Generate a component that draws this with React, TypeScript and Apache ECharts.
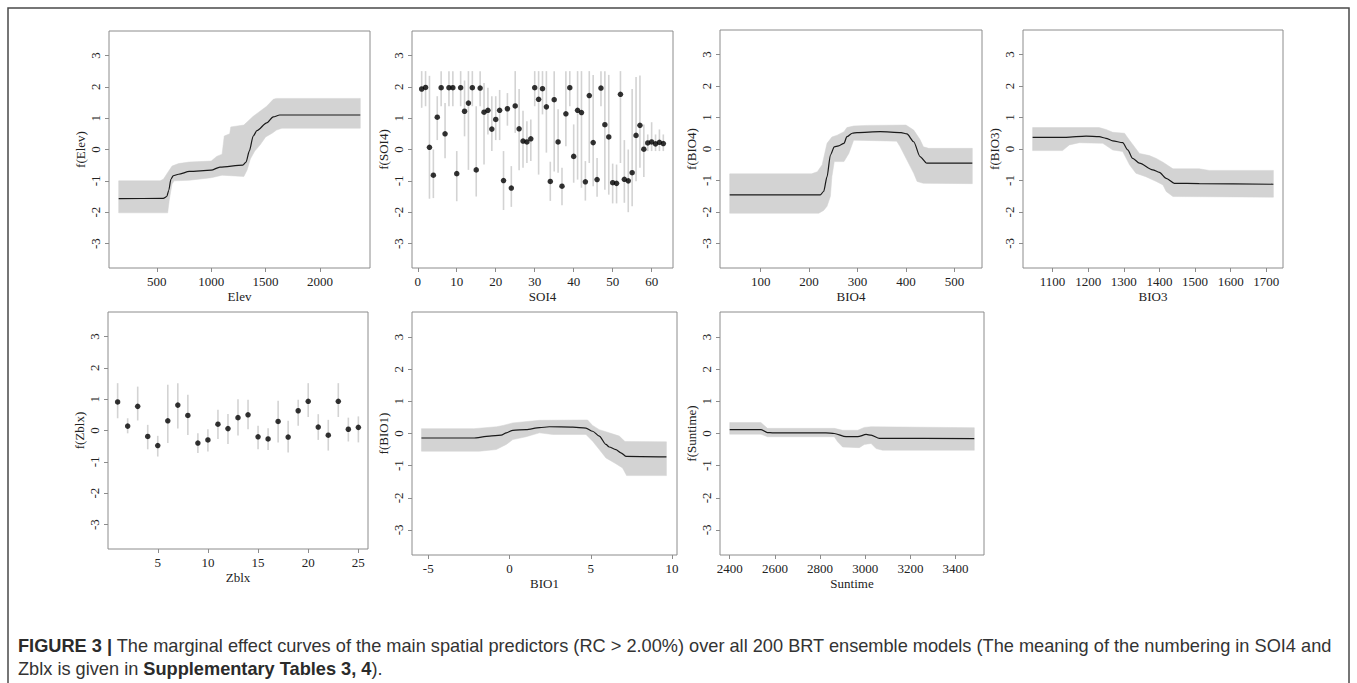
import React, { useEffect, useRef } from 'react';
import * as echarts from 'echarts';

// ---------------- DATA ----------------
// Elev
const elevTicks = [500, 1000, 1500, 2000];
const elevLine = [[150,-1.57],[560,-1.56],[592,-1.5],[610,-1.3],[630,-0.95],[650,-0.84],[700,-0.79],[800,-0.7],[1000,-0.66],[1080,-0.56],[1290,-0.5],[1320,-0.4],[1350,-0.05],[1386,0.43],[1420,0.6],[1510,0.85],[1570,1.04],[1630,1.1],[2370,1.1]];
const elevUpper = [[150,-1.0],[530,-1.0],[560,-0.95],[592,-0.78],[640,-0.53],[700,-0.45],[800,-0.4],[1000,-0.37],[1050,-0.22],[1100,-0.15],[1120,0.43],[1170,0.5],[1180,0.72],[1300,0.78],[1386,1.06],[1510,1.38],[1570,1.6],[1600,1.63],[2370,1.63]];
const elevLower = [[150,-2.02],[600,-2.02],[615,-1.6],[640,-1.1],[660,-1.0],[800,-0.98],[1000,-0.9],[1100,-0.82],[1300,-0.86],[1330,-0.65],[1360,-0.3],[1400,-0.05],[1450,0.15],[1500,0.4],[1560,0.52],[1600,0.62],[1650,0.68],[2370,0.68]];

// SOI4 (factor levels 1..63)
const soi4Ticks = [0, 10, 20, 30, 40, 50, 60];
const soi4Mean = [1.93,1.98,0.07,-0.82,1.03,1.97,0.5,1.97,1.97,-0.77,1.97,1.22,1.48,1.97,-0.65,1.96,1.19,1.25,0.65,0.96,1.25,-0.99,1.3,-1.23,1.39,0.66,0.27,0.24,0.34,1.97,1.6,1.94,1.36,-1.02,1.59,0.24,-1.17,1.14,1.97,-0.22,1.25,1.18,-1.03,1.72,0.22,-0.96,1.96,0.79,0.4,-1.06,-1.08,1.76,-0.95,-1.0,-0.74,0.45,0.77,0.01,0.21,0.24,0.18,0.23,0.19];
const soi4Hi = [2.5,2.5,2.35,0,1.7,2.5,1.48,2.5,2.5,-0.05,2.5,2.2,2.5,2.5,1.38,2.5,2.12,1.97,1.7,1.7,1.9,-0.05,1.8,-0.53,2.5,1.93,1.24,0.9,0.96,2.5,2.5,2.5,2.5,-0.39,2.5,1.28,-0.58,2.5,2.5,0.8,2.5,2.5,-0.37,2.5,2.38,-0.27,2.5,2.5,2.38,-0.45,-0.48,2.5,0.3,0,1.93,2.31,2.36,0.8,0.48,0.87,0.48,0.64,0.48];
const soi4Lo = [1.33,1.38,-1.57,-1.55,0.3,1.38,-0.28,1.38,1.38,-1.65,1.38,0.42,-0.65,1.38,-1.5,1.38,-0.48,0.48,-0.05,0.3,0.3,-1.93,0.76,-1.83,0.53,-0.66,-0.58,-0.43,-0.37,1.38,-0.8,1.12,-0.1,-1.64,-0.7,-0.74,-1.78,0.1,1.38,-1.06,-0.96,-1.22,-1.63,-0.43,-1.17,-1.51,1.38,-1.28,-1.44,-1.72,-1.72,-0.43,-1.7,-2.0,-1.81,-1.01,-0.58,-0.88,-0.05,-0.05,-0.05,-0.05,-0.05];

// BIO4
const bio4Ticks = [100, 200, 300, 400, 500];
const bio4Line = [[36,-1.46],[223,-1.46],[230,-1.35],[237,-0.88],[244,-0.19],[252,0.07],[261,0.1],[272,0.18],[278,0.39],[289,0.5],[299,0.52],[347,0.55],[390,0.52],[402,0.48],[416,0.23],[429,-0.24],[443,-0.45],[537,-0.45]];
const bio4Upper = [[36,-0.79],[205,-0.79],[217,-0.72],[227,-0.5],[237,0.18],[247,0.38],[258,0.44],[272,0.55],[278,0.68],[292,0.73],[320,0.75],[400,0.76],[416,0.6],[429,0.3],[436,0.07],[447,0.02],[537,0.02]];
const bio4Lower = [[36,-2.04],[220,-2.04],[230,-1.95],[237,-1.82],[244,-1.5],[247,-0.88],[252,-0.4],[272,-0.4],[282,-0.14],[292,0.28],[381,0.25],[388,0.07],[402,-0.35],[416,-0.77],[423,-1.03],[436,-1.09],[537,-1.1]];

// BIO3
const bio3Ticks = [1100, 1200, 1300, 1400, 1500, 1600, 1700];
const bio3Line = [[1044,0.37],[1138,0.37],[1194,0.41],[1231,0.39],[1250,0.34],[1269,0.26],[1297,0.2],[1311,-0.03],[1325,-0.3],[1344,-0.45],[1381,-0.66],[1400,-0.74],[1419,-0.93],[1442,-1.09],[1512,-1.1],[1720,-1.12]];
const bio3Upper = [[1044,0.68],[1231,0.68],[1250,0.62],[1269,0.53],[1302,0.5],[1316,0.28],[1344,-0.14],[1372,-0.21],[1391,-0.3],[1410,-0.42],[1438,-0.63],[1512,-0.63],[1540,-0.68],[1720,-0.68]];
const bio3Lower = [[1044,-0.05],[1128,-0.05],[1147,0.13],[1175,0.2],[1241,0.18],[1269,-0.03],[1297,-0.08],[1316,-0.5],[1334,-0.77],[1362,-0.88],[1391,-1.03],[1410,-1.14],[1419,-1.35],[1438,-1.51],[1720,-1.53]];

// Zblx (factor levels 1..25)
const zblxTicks = [5, 10, 15, 20, 25];
const zblxMean = [0.91,0.14,0.77,-0.19,-0.48,0.31,0.81,0.48,-0.4,-0.3,0.2,0.06,0.41,0.5,-0.2,-0.27,0.29,-0.21,0.63,0.93,0.11,-0.15,0.93,0.04,0.1];
const zblxHi = [1.51,0.39,1.4,0.18,-0.17,1.46,1.51,1.14,-0.09,0.04,0.66,0.53,1.0,0.98,0.15,0.07,0.95,0.31,0.98,1.51,0.52,0.34,1.51,0.41,0.45];
const zblxLo = [0.39,-0.09,0.32,-0.6,-0.83,-0.4,0.06,-0.14,-0.72,-0.67,-0.27,-0.43,-0.16,0.04,-0.6,-0.62,-0.38,-0.7,0.15,0.43,-0.3,-0.64,0.43,-0.35,-0.38];

// BIO1
const bio1Ticks = [-5, 0, 5, 10];
const bio1Line = [[-5.42,-0.14],[-2.25,-0.14],[-1.23,-0.08],[-0.51,-0.05],[-0.2,0.02],[0.2,0.1],[1.02,0.12],[1.84,0.18],[2.45,0.21],[3.89,0.2],[4.7,0.17],[5.11,0.07],[5.52,-0.08],[5.93,-0.34],[6.13,-0.42],[6.54,-0.5],[6.85,-0.6],[7.16,-0.71],[9.65,-0.73]];
const bio1Upper = [[-5.42,0.15],[-2.2,0.15],[-0.8,0.21],[-0.4,0.25],[0.2,0.33],[1.84,0.41],[4.8,0.42],[5.11,0.25],[5.52,0.12],[6.13,0.02],[6.75,-0.08],[7.1,-0.25],[9.65,-0.26]];
const bio1Lower = [[-5.42,-0.55],[-1.84,-0.55],[-0.82,-0.5],[-0.2,-0.34],[0.2,-0.19],[1.02,-0.1],[1.84,0.02],[2.66,-0.03],[4.7,-0.03],[5.11,-0.24],[5.52,-0.5],[5.93,-0.76],[6.54,-0.94],[6.95,-1.07],[7.2,-1.31],[9.65,-1.31]];

// Suntime
const suntimeTicks = [2400, 2600, 2800, 3000, 3200, 3400];
const suntimeLine = [[2400,0.12],[2538,0.12],[2567,0.03],[2589,0.02],[2826,0.02],[2863,0.0],[2915,-0.1],[2967,-0.1],[3004,-0.03],[3026,-0.05],[3063,-0.15],[3483,-0.16]];
const suntimeUpper = [[2400,0.34],[2538,0.34],[2567,0.16],[2863,0.16],[2900,0.1],[2967,0.1],[2996,0.19],[3026,0.21],[3483,0.18]];
const suntimeLower = [[2400,-0.02],[2538,-0.02],[2567,-0.1],[2863,-0.1],[2878,-0.26],[2900,-0.42],[2974,-0.44],[2996,-0.34],[3026,-0.31],[3048,-0.47],[3077,-0.52],[3483,-0.52]];

const yTicks = [-3, -2, -1, 0, 1, 2, 3];

const captionLabel = 'FIGURE 3 |';
const captionLine1 = 'The marginal effect curves of the main spatial predictors (RC > 2.00%) over all 200 BRT ensemble models (The meaning of the numbering in SOI4 and';
const captionLine2a = 'Zblx is given in ';
const captionLine2b = 'Supplementary Tables 3, 4';
const captionLine2c = ').';

// ---------------- LAYOUT ----------------
type Panel = {
  left: number; top: number; width: number; height: number;
  xmin: number; xmax: number; xticks: number[]; xname: string; yname: string;
  kind: 'curve' | 'factor';
  line?: number[][]; upper?: number[][]; lower?: number[][];
  mean?: number[]; hi?: number[]; lo?: number[];
};

const PANELS: Panel[] = [
  { left: 109, top: 31, width: 261, height: 237, xmin: 61, xmax: 2459, xticks: elevTicks, xname: 'Elev', yname: 'f(Elev)', kind: 'curve', line: elevLine, upper: elevUpper, lower: elevLower },
  { left: 412, top: 31, width: 261, height: 237, xmin: -1.48, xmax: 65.48, xticks: soi4Ticks, xname: 'SOI4', yname: 'f(SOI4)', kind: 'factor', mean: soi4Mean, hi: soi4Hi, lo: soi4Lo },
  { left: 720, top: 30, width: 262, height: 238, xmin: 16, xmax: 557, xticks: bio4Ticks, xname: 'BIO4', yname: 'f(BIO4)', kind: 'curve', line: bio4Line, upper: bio4Upper, lower: bio4Lower },
  { left: 1023, top: 30, width: 260, height: 238, xmin: 1017, xmax: 1747, xticks: bio3Ticks, xname: 'BIO3', yname: 'f(BIO3)', kind: 'curve', line: bio3Line, upper: bio3Upper, lower: bio3Lower },
  { left: 108, top: 312, width: 260, height: 237, xmin: 0.04, xmax: 25.96, xticks: zblxTicks, xname: 'Zblx', yname: 'f(Zblx)', kind: 'factor', mean: zblxMean, hi: zblxHi, lo: zblxLo },
  { left: 412, top: 312, width: 265, height: 243, xmin: -6.0, xmax: 10.3, xticks: bio1Ticks, xname: 'BIO1', yname: 'f(BIO1)', kind: 'curve', line: bio1Line, upper: bio1Upper, lower: bio1Lower },
  { left: 720, top: 312, width: 264, height: 243, xmin: 2357, xmax: 3526, xticks: suntimeTicks, xname: 'Suntime', yname: 'f(Suntime)', kind: 'curve', line: suntimeLine, upper: suntimeUpper, lower: suntimeLower },
];

const SERIF = "'Liberation Serif', 'Times New Roman', serif";
const SANS = "'Liberation Sans', Arial, Helvetica, sans-serif";
const BOX = '#8c8c8c';
const LABEL = '#222';
const BAND = '#d3d3d3';
const BAR = '#d3d3d3';
const FS = 13;
const CAP_FS = 18.2;

const plain = (v: number) => String(v);

function buildOption() {
  const grid: any[] = [];
  const xAxis: any[] = [];
  const yAxis: any[] = [];
  const series: any[] = [];

  PANELS.forEach((p, i) => {
    grid.push({
      left: p.left, top: p.top, width: p.width, height: p.height,
      show: true, borderColor: BOX, borderWidth: 1, backgroundColor: 'transparent',
      containLabel: false, outerBoundsMode: 'none',
    });
    xAxis.push({
      type: 'value', gridIndex: i, min: p.xmin, max: p.xmax,
      axisLine: { show: false, onZero: false },
      axisTick: { show: true, length: 4, inside: false, lineStyle: { color: BOX }, customValues: p.xticks },
      axisLabel: { customValues: p.xticks, formatter: plain, margin: 7, fontFamily: SERIF, fontSize: FS, color: LABEL },
      splitLine: { show: false },
      name: p.xname, nameLocation: 'middle', nameGap: 22,
      nameTextStyle: { fontFamily: SERIF, fontSize: FS, color: LABEL },
    });
    yAxis.push({
      type: 'value', gridIndex: i, min: -3.78, max: 3.78,
      axisLine: { show: false, onZero: false },
      axisTick: { show: true, length: 4, inside: false, lineStyle: { color: BOX }, customValues: yTicks },
      axisLabel: { customValues: yTicks, formatter: plain, rotate: 90, margin: 7, fontFamily: SERIF, fontSize: FS, color: LABEL },
      splitLine: { show: false },
      name: p.yname, nameLocation: 'middle', nameGap: 22,
      nameTextStyle: { fontFamily: SERIF, fontSize: FS, color: LABEL },
    });

    if (p.kind === 'curve') {
      const upper = p.upper!;
      const lower = p.lower!;
      series.push({
        type: 'custom', xAxisIndex: i, yAxisIndex: i, silent: true, z: 1,
        data: upper, encode: { x: 0, y: 1 },
        renderItem: (params: any, api: any) => {
          if (params.dataIndex !== 0) return null;
          const pts = upper.map((d) => api.coord(d)).concat(lower.slice().reverse().map((d) => api.coord(d)));
          return { type: 'polygon', shape: { points: pts }, style: { fill: BAND, stroke: BAND, lineWidth: 0.5 } };
        },
      });
      series.push({
        type: 'line', xAxisIndex: i, yAxisIndex: i, data: p.line, showSymbol: false, symbol: 'none',
        smooth: 0.25, smoothMonotone: 'x', silent: true, z: 3,
        lineStyle: { color: '#1a1a1a', width: 1.2 },
      });
    } else {
      const rows = p.mean!.map((m, k) => [k + 1, p.lo![k], p.hi![k]]);
      series.push({
        type: 'custom', xAxisIndex: i, yAxisIndex: i, silent: true, z: 1,
        data: rows, encode: { x: 0, y: [1, 2] },
        renderItem: (params: any, api: any) => {
          const x = api.value(0);
          const a = api.coord([x, api.value(1)]);
          const b = api.coord([x, api.value(2)]);
          return { type: 'line', shape: { x1: a[0], y1: a[1], x2: b[0], y2: b[1] }, style: { stroke: BAR, lineWidth: 1.6 } };
        },
      });
      series.push({
        type: 'scatter', xAxisIndex: i, yAxisIndex: i, silent: true, z: 3,
        data: p.mean!.map((m, k) => [k + 1, m]),
        symbol: 'circle', symbolSize: 5.5,
        itemStyle: { color: '#000' },
      });
    }
  });

  const rich = { b: { fontFamily: SANS, fontSize: CAP_FS, fontWeight: 'bold', fill: '#2b2b2b' } };
  const graphic: any[] = [
    {
      type: 'rect', silent: true, z: 0,
      shape: { x: 8, y: 8, width: 1341, height: 720 },
      style: { fill: 'none', stroke: '#4a4a4a', lineWidth: 1.5 },
    },
    {
      type: 'text', left: 18, top: 637, silent: true,
      style: {
        text: '{b|' + captionLabel + '} ' + captionLine1,
        font: `${CAP_FS}px ${SANS}`, fill: '#333', rich,
      },
    },
    {
      type: 'text', left: 18, top: 660, silent: true,
      style: {
        text: captionLine2a + '{b|' + captionLine2b + '}' + captionLine2c,
        font: `${CAP_FS}px ${SANS}`, fill: '#333', rich,
      },
    },
  ];

  return { animation: false, backgroundColor: '#fff', grid, xAxis, yAxis, series, graphic };
}

export default function App() {
  const ref = useRef<HTMLDivElement>(null);
  useEffect(() => {
    if (!ref.current) return;
    const chart = echarts.init(ref.current, null, { renderer: 'svg' });
    chart.setOption(buildOption() as any);
    return () => chart.dispose();
  }, []);
  return (
    <div
      ref={ref}
      style={{ position: 'absolute', left: 0, top: 0, width: 1357, height: 683, background: '#fff' }}
    />
  );
}
